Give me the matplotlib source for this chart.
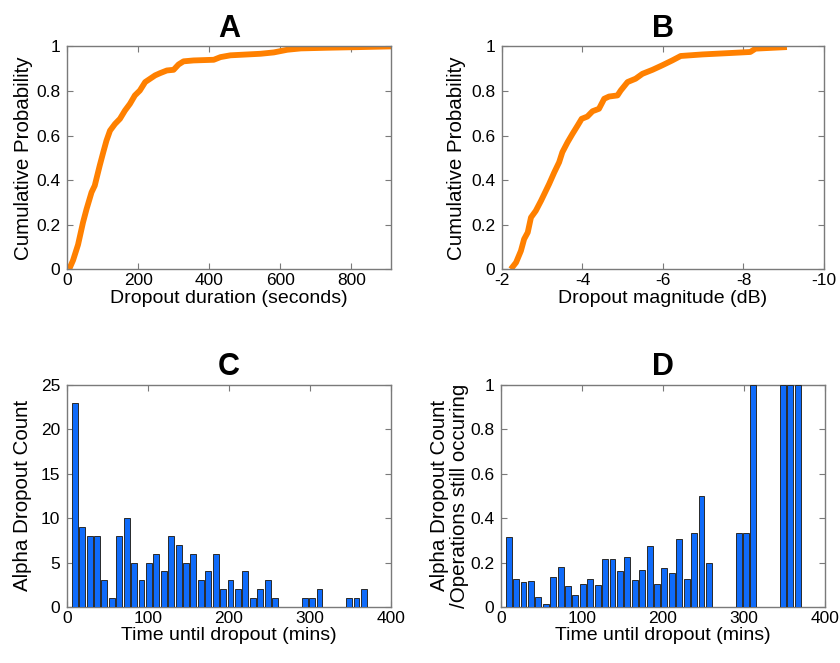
import matplotlib
matplotlib.use("Agg")
import matplotlib.pyplot as plt
from matplotlib.ticker import FuncFormatter

plt.rcParams['font.family'] = ['Liberation Sans', 'DejaVu Sans']
plt.rcParams['axes.unicode_minus'] = False

# --- A: cumulative distribution of dropout duration (seconds)
dur_x = [6, 17, 31, 45, 55, 69, 78, 92, 102, 111, 121, 135, 149, 163, 177, 191,
         205, 220, 234, 248, 262, 281, 300, 314, 328, 356, 413, 432, 460, 545,
         582, 620, 658, 733, 827, 912]
dur_p = [0.0, 0.04, 0.11, 0.21, 0.27, 0.345, 0.375, 0.465, 0.525, 0.577, 0.622,
         0.652, 0.675, 0.712, 0.742, 0.78, 0.802, 0.84, 0.855, 0.87, 0.88, 0.892,
         0.895, 0.919, 0.933, 0.937, 0.94, 0.952, 0.96, 0.967, 0.973, 0.985,
         0.991, 0.994, 0.997, 1.0]

# --- B: cumulative distribution of dropout magnitude (dB)
mag_x = [-2.22, -2.35, -2.47, -2.55, -2.64, -2.72, -2.84, -2.97, -3.09, -3.17,
         -3.30, -3.42, -3.50, -3.63, -3.75, -3.88, -3.98, -4.12, -4.25, -4.41,
         -4.54, -4.66, -4.87, -4.95, -5.12, -5.32, -5.49, -5.74, -5.98, -6.23,
         -6.44, -6.98, -7.64, -8.17, -8.30, -9.08]
mag_p = [0.0, 0.03, 0.082, 0.135, 0.165, 0.232, 0.262, 0.307, 0.352, 0.382,
         0.435, 0.48, 0.525, 0.57, 0.607, 0.645, 0.675, 0.685, 0.709, 0.72,
         0.765, 0.775, 0.78, 0.802, 0.84, 0.855, 0.877, 0.895, 0.915, 0.937,
         0.957, 0.964, 0.97, 0.975, 0.99, 0.997]

# --- C/D: histogram bins of time until dropout (mins)
bin_centers = [9.5, 18.7, 27.8, 37.0, 46.1, 55.3, 64.4, 73.6, 82.8, 91.9,
               101.1, 110.2, 119.4, 128.5, 137.7, 146.9, 156.0, 165.2, 174.3, 183.5,
               192.6, 201.8, 210.9, 220.1, 229.3, 238.4, 247.6, 256.7, 265.9, 275.0,
               284.2, 293.4, 302.5, 311.7, 320.8, 330.0, 339.1, 348.3, 357.4, 366.6]
dropout_counts = [23, 9, 8, 8, 3, 1, 8, 10, 5, 3,
                  5, 6, 4, 8, 7, 5, 6, 3, 4, 6,
                  2, 3, 2, 4, 1, 2, 3, 1, 0, 0,
                  0, 1, 1, 2, 0, 0, 0, 1, 1, 2]
dropout_ratio = [0.313, 0.125, 0.113, 0.116, 0.044, 0.015, 0.134, 0.182, 0.093, 0.056,
                 0.102, 0.125, 0.10, 0.218, 0.214, 0.162, 0.224, 0.12, 0.168, 0.275,
                 0.105, 0.177, 0.155, 0.304, 0.125, 0.331, 0.50, 0.20, 0.0, 0.0,
                 0.0, 0.333, 0.333, 1.0, 0.0, 0.0, 0.0, 1.0, 1.0, 1.0]
bin_width = 9.157

orange = '#ff8000'
blue = '#0f6bfa'
axis_gray = '#7a7a7a'

fmt = FuncFormatter(lambda v, pos: '%g' % v)

fig = plt.figure(figsize=(8.4, 6.63), dpi=100)
axA = fig.add_axes([0.0798, 0.594, 0.3857, 0.336])
axB = fig.add_axes([0.5976, 0.594, 0.3833, 0.336])
axC = fig.add_axes([0.0798, 0.0845, 0.3857, 0.335])
axD = fig.add_axes([0.5964, 0.0845, 0.3857, 0.335])


def style(ax):
    for s in ax.spines.values():
        s.set_color(axis_gray)
        s.set_linewidth(1.0)
    ax.tick_params(direction='in', length=4, width=0.8, color=axis_gray,
                   top=True, right=True, labelsize=12.5, labelcolor='black', pad=5)
    ax.tick_params(axis='x', pad=3)
    ax.xaxis.set_major_formatter(fmt)
    ax.yaxis.set_major_formatter(fmt)


def draw_bars(ax, heights):
    ax.bar(bin_centers, heights, width=bin_width * 0.8, color=blue,
           edgecolor='#2a2a2a', linewidth=0.7, zorder=3)


axA.plot(dur_x, dur_p, color=orange, lw=4.2, solid_capstyle='butt')
axA.set_xlim(0, 912)
axA.set_ylim(0, 1)
axA.set_xticks([0, 200, 400, 600, 800])
axA.set_yticks([0, 0.2, 0.4, 0.6, 0.8, 1])
axA.set_xlabel('Dropout duration (seconds)', fontsize=14)
axA.set_ylabel('Cumulative Probability', fontsize=14.8)
axA.set_title('A', fontsize=22, fontweight='bold', pad=7)
axA.yaxis.set_label_coords(-0.106, 0.5)
axA.xaxis.set_label_coords(0.5, -0.095)

axB.plot(mag_x, mag_p, color=orange, lw=4.2, solid_capstyle='butt')
axB.set_xlim(-2, -10)
axB.set_ylim(0, 1)
axB.set_xticks([-2, -4, -6, -8, -10])
axB.set_yticks([0, 0.2, 0.4, 0.6, 0.8, 1])
axB.set_xlabel('Dropout magnitude (dB)', fontsize=14)
axB.set_ylabel('Cumulative Probability', fontsize=14.8)
axB.set_title('B', fontsize=22, fontweight='bold', pad=7)
axB.yaxis.set_label_coords(-0.112, 0.5)
axB.xaxis.set_label_coords(0.5, -0.095)

draw_bars(axC, dropout_counts)
axC.set_xlim(0, 400)
axC.set_ylim(0, 25)
axC.set_xticks([0, 100, 200, 300, 400])
axC.set_yticks([0, 5, 10, 15, 20, 25])
axC.set_xlabel('Time until dropout (mins)', fontsize=14)
axC.set_ylabel('Alpha Dropout Count', fontsize=14.8)
axC.set_title('C', fontsize=22, fontweight='bold', pad=7)
axC.yaxis.set_label_coords(-0.108, 0.5)
axC.xaxis.set_label_coords(0.5, -0.09)

draw_bars(axD, dropout_ratio)
axD.set_xlim(0, 400)
axD.set_ylim(0, 1)
axD.set_xticks([0, 100, 200, 300, 400])
axD.set_yticks([0, 0.2, 0.4, 0.6, 0.8, 1])
axD.set_xlabel('Time until dropout (mins)', fontsize=14)
axD.set_ylabel('Alpha Dropout Count\n/Operations still occuring', fontsize=14.8,
               linespacing=1.05)
axD.set_title('D', fontsize=22, fontweight='bold', pad=7)
axD.yaxis.set_label_coords(-0.1, 0.5)
axD.xaxis.set_label_coords(0.5, -0.09)

for ax in (axA, axB, axC, axD):
    style(ax)

fig.savefig('out.png', dpi=100)
